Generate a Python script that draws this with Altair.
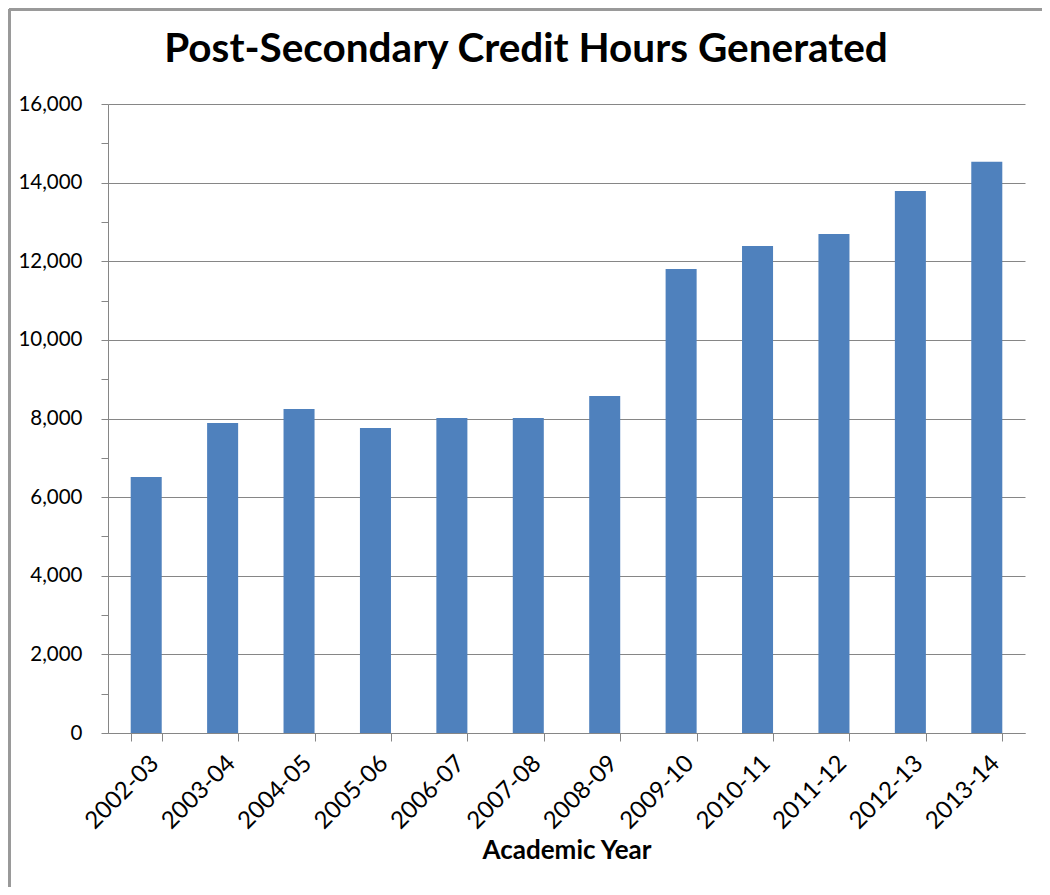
import altair as alt
import pandas as pd

years = ["2002-03", "2003-04", "2004-05", "2005-06", "2006-07", "2007-08",
         "2008-09", "2009-10", "2010-11", "2011-12", "2012-13", "2013-14"]
hours = [6510, 7885, 8240, 7760, 8010, 8010, 8570, 11800, 12390, 12690, 13790, 14530]
tick_values = list(range(0, 16001, 1000))
title_text = ["Post-Secondary Credit Hours Generated"]

df = pd.DataFrame({"year": years, "hours": hours})
tdf = pd.DataFrame({"t": title_text})

FONT = "Lato"
GRAY = "#868686"

bars = alt.Chart(df).mark_bar(color="#4F81BD").encode(
    x=alt.X("year:N", sort=years,
            scale=alt.Scale(paddingInner=0.594, paddingOuter=0.297),
            axis=alt.Axis(title="Academic Year", labelAngle=-45, tickBand="extent",
                          labelFontSize=24, labelFont=FONT, labelColor="black",
                          titleFontSize=26, titleFont=FONT, titleFontWeight="bold",
                          titleColor="black", titlePadding=4,
                          domainColor=GRAY, tickColor=GRAY, tickSize=8, labelPadding=10)),
    y=alt.Y("hours:Q", scale=alt.Scale(domain=[0, 16000], nice=False),
            axis=alt.Axis(title=None, values=tick_values, format=",d",
                          labelExpr="datum.value % 2000 == 0 ? datum.label : ''",
                          labelFontSize=20.5, labelFont=FONT, labelColor="black",
                          labelPadding=19,
                          domainColor=GRAY, tickColor=GRAY, tickSize=7,
                          grid=True, gridColor=GRAY,
                          gridOpacity={"condition": {"test": "datum.value % 2000 == 0", "value": 1}, "value": 0})),
)

title = alt.Chart(tdf).mark_text(font=FONT, fontSize=40.5, fontWeight="bold", color="black",
                                 align="center", baseline="alphabetic").encode(
    text="t:N", x=alt.value(418), y=alt.value(-42))

border_left = alt.Chart(df).mark_rule(color="#999999", strokeWidth=3).encode(
    x=alt.value(-99), y=alt.value(-95), y2=alt.value(800))
border_top = alt.Chart(df).mark_rule(color="#999999", strokeWidth=3).encode(
    x=alt.value(-99), x2=alt.value(940), y=alt.value(-95))

chart = alt.layer(bars, title, border_left, border_top).properties(
    width=917, height=629,
    autosize=alt.AutoSizeParams(type="none"),
    padding={"left": 100, "top": 96, "right": 17, "bottom": 154},
).configure_view(stroke=None)

chart.save("out.html", embed_options={"renderer": "svg", "actions": False})
